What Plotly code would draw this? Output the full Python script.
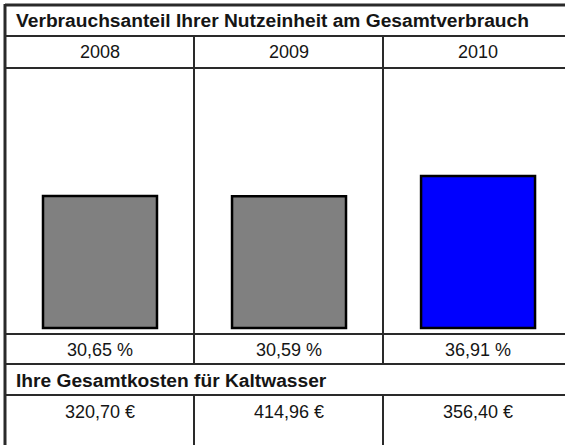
import plotly.graph_objects as go

# ---- data ----
years = ["2008", "2009", "2010"]
shares = [30.65, 30.59, 36.91]
share_labels = ["30,65 %", "30,59 %", "36,91 %"]
costs = ["320,70 €", "414,96 €", "356,40 €"]
bar_colors = ["#808080", "#808080", "#0000FF"]
title_top = "Verbrauchsanteil Ihrer Nutzeinheit am Gesamtverbrauch"
title_costs = "Ihre Gesamtkosten für Kaltwasser"

W, H = 565, 445
BAR_BASE = -10.7
Y_RANGE = [-47.3, 92.0]
X_RANGE = [-0.529, 2.460]


def px(x):
    return x / W


def py(y):
    return 1 - y / H


fig = go.Figure()
fig.add_trace(go.Bar(
    x=years, y=[v - BAR_BASE for v in shares], base=BAR_BASE,
    width=0.603,
    marker=dict(color=bar_colors, line=dict(color="#000000", width=2.5)),
    hoverinfo="skip",
))

line_col = "#2a2a2a"
shapes = []


def hline(y, x0=5, x1=W, w=2):
    shapes.append(dict(type="line", xref="paper", yref="paper",
                       x0=px(x0), x1=px(x1), y0=py(y), y1=py(y),
                       line=dict(color=line_col, width=w)))


def vline(x, y0, y1, w=2):
    shapes.append(dict(type="line", xref="paper", yref="paper",
                       x0=px(x), x1=px(x), y0=py(y0), y1=py(y1),
                       line=dict(color=line_col, width=w)))


# outer border (right edge lies outside the visible area)
hline(5, w=3)
vline(5, 4, H, w=3)
# row lines
for y in [36, 68, 334, 364, 395]:
    hline(y)
# column dividers
for x in [194, 383]:
    vline(x, 36, 364)
    vline(x, 395, H)

ann = []
ann.append(dict(text="<b>" + title_top + "</b>", xref="paper", yref="paper",
                x=px(14), y=py(21), xanchor="left", yanchor="middle",
                showarrow=False, font=dict(size=19.2, color="#151515")))
ann.append(dict(text="<b>" + title_costs + "</b>", xref="paper", yref="paper",
                x=px(14), y=py(380), xanchor="left", yanchor="middle",
                showarrow=False, font=dict(size=19.2, color="#151515")))
for i, yr in enumerate(years):
    ann.append(dict(text=yr, xref="x", yref="paper", x=i, y=py(52),
                    xanchor="center", yanchor="middle", showarrow=False,
                    font=dict(size=18, color="#151515")))
    ann.append(dict(text=share_labels[i], xref="x", yref="paper", x=i, y=py(350),
                    xanchor="center", yanchor="middle", showarrow=False,
                    font=dict(size=18, color="#151515")))
    ann.append(dict(text=costs[i], xref="x", yref="paper", x=i, y=py(412),
                    xanchor="center", yanchor="middle", showarrow=False,
                    font=dict(size=18, color="#151515")))

fig.update_layout(
    width=W, height=H,
    margin=dict(l=0, r=0, t=0, b=0),
    paper_bgcolor="white", plot_bgcolor="white",
    showlegend=False,
    font=dict(family="Liberation Sans, Arial, sans-serif"),
    xaxis=dict(range=X_RANGE, visible=False, type="category", fixedrange=True),
    yaxis=dict(range=Y_RANGE, visible=False, fixedrange=True),
    shapes=shapes, annotations=ann,
)

fig.write_html("out.html", config={"displayModeBar": False},
               post_script="document.body.style.margin='0';document.body.style.overflow='hidden';")
